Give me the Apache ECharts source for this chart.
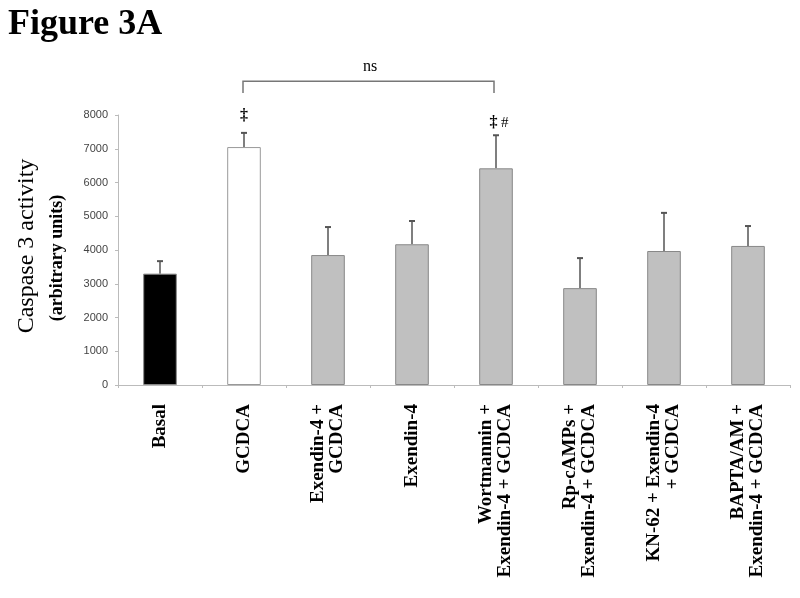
<!DOCTYPE html>
<html><head><meta charset="utf-8">
<script src="https://cdn.jsdelivr.net/npm/echarts@6/dist/echarts.min.js"></script>
<style>html,body{margin:0;padding:0;background:#fff}#c{width:800px;height:598px}</style>
</head><body><div id="c"></div>
<script>
const categories = ['Basal', 'GCDCA', 'Exendin-4 +\nGCDCA', 'Exendin-4', 'Wortmannin +\nExendin-4 + GCDCA', 'Rp-cAMPs +\nExendin-4 + GCDCA', 'KN-62 + Exendin-4\n+ GCDCA', 'BAPTA/AM +\nExendin-4 + GCDCA'];
const values = [3300, 7050, 3850, 4170, 6420, 2870, 3970, 4120];
const errTop = [3670, 7470, 4680, 4860, 7400, 3760, 5100, 4710];
const yTicks = [0, 1000, 2000, 3000, 4000, 5000, 6000, 7000, 8000];
const markers = [[1, '‡'], [4, '‡ #']];
const bracket = [1, 4, 9000, 8650];
const barColors = ['#000000', '#ffffff', '#c0c0c0', '#c0c0c0', '#c0c0c0', '#c0c0c0', '#c0c0c0', '#c0c0c0'];

const chart = echarts.init(document.getElementById('c'));
const serif = 'Liberation Serif';
chart.setOption({
  animation: false,
  backgroundColor: '#fff',
  title: { text: 'Figure 3A', left: 8, top: 7, padding: 0,
    textStyle: { fontFamily: serif, fontSize: 36, fontWeight: 'bold', color: '#000' } },
  grid: { left: 118, right: 10, top: 115, bottom: 213, containLabel: false },
  xAxis: {
    type: 'category', data: categories,
    axisLine: { lineStyle: { color: '#bbbbbb', width: 1 } },
    axisTick: { show: true, length: 3, lineStyle: { color: '#bbbbbb' } },
    axisLabel: { interval: 0, rotate: 90, margin: 19, fontFamily: serif, fontWeight: 'bold', fontSize: 19, lineHeight: 19, color: '#000' }
  },
  yAxis: {
    type: 'value', min: yTicks[0], max: yTicks[yTicks.length - 1], interval: 1000,
    splitLine: { show: false },
    axisLine: { show: true, lineStyle: { color: '#bbbbbb', width: 1 } },
    axisTick: { show: true, length: 3, lineStyle: { color: '#bbbbbb' } },
    axisLabel: { margin: 10, fontFamily: 'Liberation Sans', fontSize: 11, color: '#444', formatter: v => String(v) }
  },
  graphic: [
    { type: 'text', x: 27, y: 246, rotation: Math.PI / 2,
      style: { text: 'Caspase 3 activity', fontFamily: serif, fontSize: 24, fill: '#000', textAlign: 'center', textVerticalAlign: 'middle' } },
    { type: 'text', x: 57, y: 258, rotation: Math.PI / 2,
      style: { text: '(arbitrary units)', fontFamily: serif, fontSize: 18, fontWeight: 'bold', fill: '#000', textAlign: 'center', textVerticalAlign: 'middle' } }
  ],
  series: [
    {
      type: 'bar', barWidth: '40%',
      data: values.map((v, i) => ({ value: v, itemStyle: { color: barColors[i], borderColor: i === 1 ? '#999' : '#888', borderWidth: 1 } }))
    },
    {
      type: 'custom', clip: false,
      data: values.map((v, i) => [i, errTop[i], v]),
      renderItem: function (params, api) {
        const p0 = api.coord([api.value(0), api.value(2)]);
        const p1 = api.coord([api.value(0), api.value(1)]);
        return { type: 'group', children: [
          { type: 'line', shape: { x1: p0[0], y1: p0[1], x2: p1[0], y2: p1[1] }, style: { stroke: '#555', lineWidth: 1.5 } },
          { type: 'line', shape: { x1: p1[0] - 3, y1: p1[1], x2: p1[0] + 3, y2: p1[1] }, style: { stroke: '#555', lineWidth: 2 } }
        ] };
      }
    },
    {
      type: 'custom', clip: false,
      data: markers.map(m => [m[0], errTop[m[0]], m[1]]),
      renderItem: function (params, api) {
        const p = api.coord([api.value(0), api.value(1)]);
        const txt = markers[params.dataIndex][1];
        const parts = txt.split(' ');
        const text = parts.length > 1 ? '{d|' + parts[0] + '} {h|' + parts[1] + '}' : '{d|' + parts[0] + '}';
        return { type: 'text', x: p[0] + (parts.length > 1 ? 3 : 0), y: p[1] - (parts.length > 1 ? 12 : 17),
          style: { text: text, textAlign: 'center', textVerticalAlign: 'middle',
            rich: { d: { fontFamily: serif, fontWeight: 'bold', fontSize: 16, fill: '#000', color: '#000' },
                    h: { fontFamily: serif, fontSize: 15, fill: '#000', color: '#000' } } } };
      }
    },
    {
      type: 'custom', clip: false,
      data: [bracket],
      renderItem: function (params, api) {
        const a = api.coord([api.value(0), api.value(2)]);
        const b = api.coord([api.value(1), api.value(2)]);
        const a2 = api.coord([api.value(0), api.value(3)]);
        const b2 = api.coord([api.value(1), api.value(3)]);
        return { type: 'group', children: [
          { type: 'polyline', shape: { points: [[a2[0] - 1, a2[1]], [a[0] - 1, a[1]], [b[0] - 2, b[1]], [b2[0] - 2, b2[1]]] }, style: { stroke: '#777', lineWidth: 1.5, fill: null } },
          { type: 'text', x: (a[0] + b[0]) / 2, y: a[1] - 14, style: { text: 'ns', fontFamily: serif, fontSize: 16, fill: '#000', textAlign: 'center', textVerticalAlign: 'middle' } }
        ] };
      }
    }
  ]
});
</script></body></html>
